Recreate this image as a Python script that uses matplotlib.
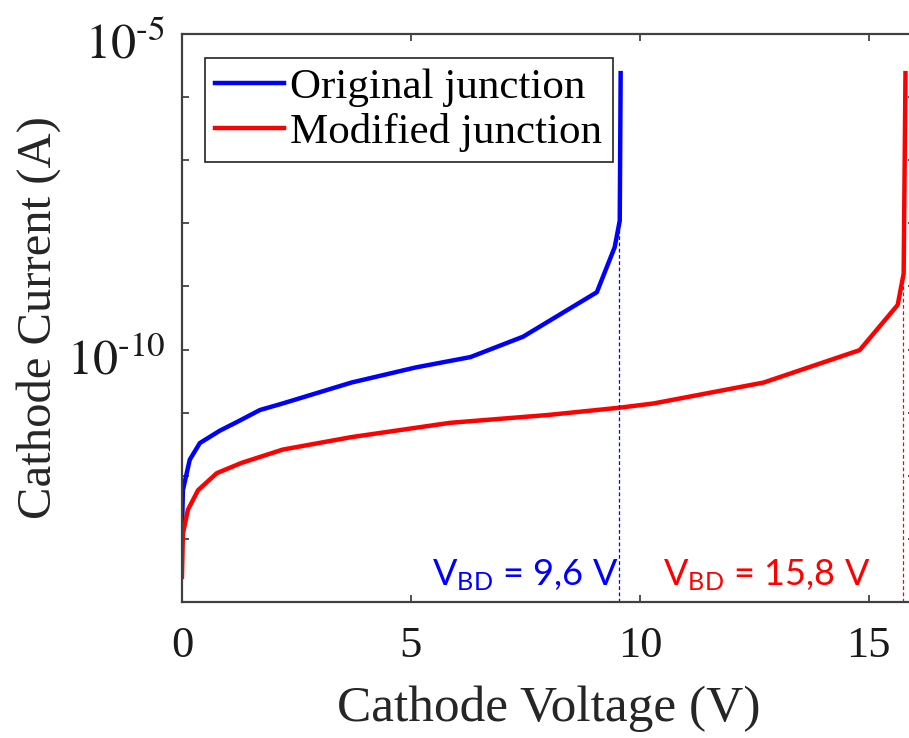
import numpy as np
import matplotlib
matplotlib.use("Agg")
import matplotlib.pyplot as plt
import matplotlib.transforms as mtransforms

plt.rcParams['font.family'] = ['Liberation Serif', 'DejaVu Serif']
plt.rcParams['mathtext.fontset'] = 'stix'

# Data
v_orig = [0.0, 0.02, 0.17, 0.39, 0.83, 1.2, 1.7, 2.2, 3.7, 5.1, 6.3, 7.45, 9.06, 9.45, 9.56, 9.58]
i_orig = [1.3e-13, 5.9e-13, 1.8e-12, 3.3e-12, 5.2e-12, 7.1e-12, 1.1e-11, 1.4e-11, 3.0e-11,
          5.2e-11, 7.6e-11, 1.6e-10, 8.1e-10, 4.2e-9, 1.1e-8, 2.4e-6]
v_mod = [0.0, 0.02, 0.13, 0.35, 0.76, 1.3, 2.2, 3.7, 5.85, 8.0, 9.56, 10.3, 12.7, 14.8, 15.63, 15.76, 15.8]
i_mod = [2.5e-14, 1.2e-13, 2.9e-13, 5.9e-13, 1.1e-12, 1.6e-12, 2.6e-12, 4.1e-12, 6.9e-12,
         9.2e-12, 1.2e-11, 1.4e-11, 3.0e-11, 9.8e-11, 5.1e-10, 1.6e-9, 2.4e-6]
vbd_orig = 9.55
vbd_mod = 15.75
vbd_orig_i = 1.1e-8
vbd_mod_i = 1.6e-9
labels = ['Original junction', 'Modified junction']
ann_orig = r'V$_{\mathrm{BD}}$ = 9,6 V'
ann_mod = r'V$_{\mathrm{BD}}$ = 15,8 V'
x_ticks = [0, 5, 10, 15]
y_exps = list(range(-14, -4))
y_labeled = (-10, -5)

fig = plt.figure(figsize=(9.09, 7.38), dpi=100)
ax = fig.add_axes([0.2002, 0.1843, 0.806, 0.7696])

ax.plot(v_orig, i_orig, color='#0000ff', lw=3.2, label=labels[0], solid_joinstyle='round')
ax.plot(v_mod, i_mod, color='#ff0000', lw=3.2, label=labels[1], solid_joinstyle='round')
ax.vlines([vbd_orig], 1e-14, vbd_orig_i, colors='#0000ff', linestyles=(0, (3, 2)), lw=0.9)
ax.vlines([vbd_mod], 1e-14, vbd_mod_i, colors='#ff0000', linestyles=(0, (3, 2)), lw=0.9)

ax.set_yscale('log')
ax.set_xlim(0, 16)
ax.set_ylim(1e-14, 1e-5)
ax.set_xticks(x_ticks)
ax.set_yticks([10.0**k for k in y_exps])
ax.set_yticklabels(['' if k not in y_labeled else r'$10^{\text{-}%d}$' % (-k) for k in y_exps])
ax.minorticks_off()
ax.tick_params(axis='both', which='major', direction='in', length=5, width=1.2,
               color='#333333', top=True, right=True)
ax.tick_params(axis='x', pad=17, labelcolor='#1a1a1a', labelsize=32)
ax.tick_params(axis='y', pad=12, labelcolor='#1a1a1a', labelsize=36)
offset = mtransforms.ScaledTranslation(0, -5 / 72, fig.dpi_scale_trans)
for lbl in ax.get_yticklabels():
    lbl.set_transform(lbl.get_transform() + offset)
for s in ax.spines.values():
    s.set_color('#404040')
    s.set_linewidth(1.6)

ax.set_xlabel('Cathode Voltage (V)', fontsize=37, color='#262626', labelpad=14)
ax.set_ylabel('Cathode Current (A)', fontsize=35, color='#262626', labelpad=4)

fs = {'family': 'Lato', 'size': 26}
plt.rcParams['mathtext.rm'] = 'Lato'
plt.rcParams['mathtext.it'] = 'Lato:italic'
plt.rcParams['mathtext.bf'] = 'Lato:bold'
ax.text(5.45, 10**-13.73, ann_orig, color='#0000ff', fontdict=fs, math_fontfamily='custom',
        ha='left', va='baseline')
ax.text(10.5, 10**-13.73, ann_mod, color='#ff0000', fontdict=fs, math_fontfamily='custom',
        ha='left', va='baseline')

leg = ax.legend(loc='upper left', bbox_to_anchor=(0.031, 0.958), borderaxespad=0,
                fontsize=31, fancybox=False, framealpha=1, edgecolor='#222222',
                handlelength=1.6, handletextpad=0.15, labelspacing=0.13, borderpad=0.24)
leg.get_frame().set_linewidth(1.2)

fig.savefig('out.png', dpi=100)
